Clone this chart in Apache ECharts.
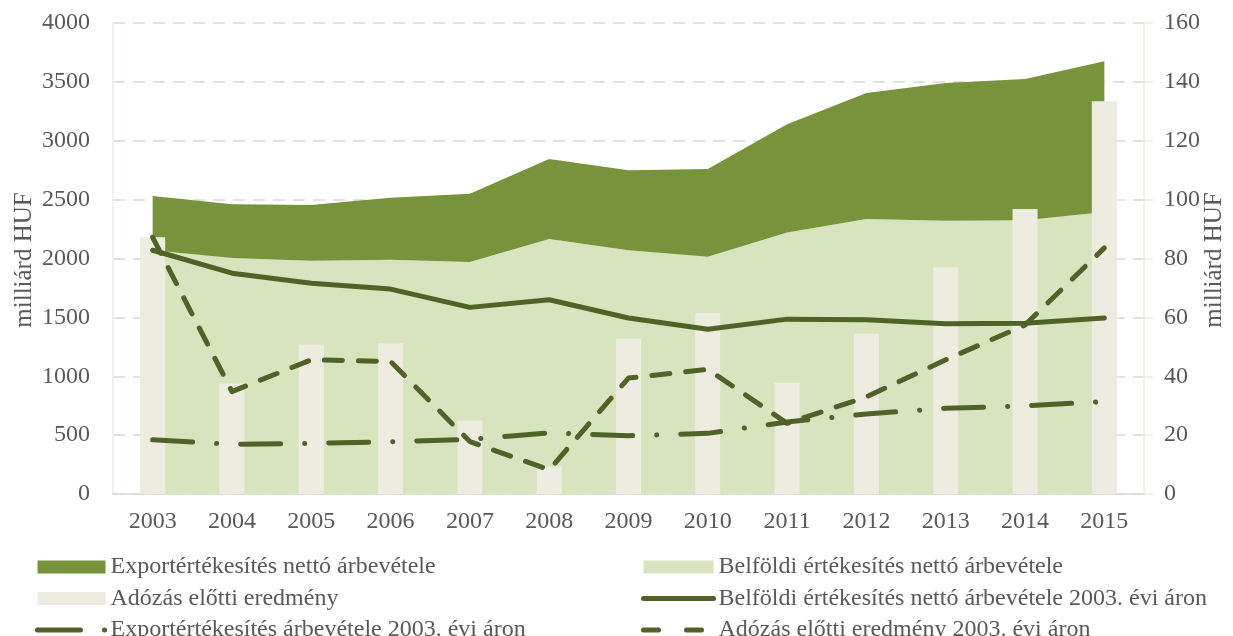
<!DOCTYPE html>
<html>
<head>
<meta charset="utf-8">
<script src="https://cdn.jsdelivr.net/npm/echarts@6/dist/echarts.min.js"></script>
<style>
  html, body { margin: 0; padding: 0; background: #ffffff; }
  #chart { width: 1233px; height: 636px; }
</style>
</head>
<body>
<div id="chart"></div>
<script>
// Years on the category axis
const years = ['2003','2004','2005','2006','2007','2008','2009','2010','2011','2012','2013','2014','2015'];

// Net sales revenue, billion HUF (stacked areas)
const domesticSales = [2070, 2005, 1980, 1990, 1970, 2165, 2070, 2015, 2220, 2335, 2320, 2325, 2395];
const exportSales   = [460, 455, 475, 525, 580, 680, 680, 745, 920, 1070, 1170, 1200, 1280];

// Profit before tax, billion HUF (columns)
const profitBeforeTax = [2180, 940, 1270, 1280, 625, 235, 1320, 1535, 945, 1360, 1925, 2420, 3335];

// Values at 2003 prices (lines)
const domesticReal = [2070, 1875, 1790, 1740, 1585, 1650, 1495, 1400, 1485, 1480, 1445, 1450, 1495];
const profitReal   = [2180, 870, 1140, 1125, 445, 205, 985, 1060, 600, 825, 1140, 1435, 2090];
const exportReal   = [460, 422, 430, 444, 464, 520, 495, 515, 612, 680, 728, 748, 785];

// Axis tick settings
const leftMax = 4000, leftStep = 500;
const rightMax = 160, rightStep = 20;
const unitLabel = 'milliárd HUF';

const NAMES = {
  exp: 'Exportértékesítés nettó árbevétele',
  dom: 'Belföldi értékesítés nettó árbevétele',
  pbt: 'Adózás előtti eredmény',
  domReal: 'Belföldi értékesítés nettó árbevétele 2003. évi áron',
  expReal: 'Exportértékesítés árbevétele 2003. évi áron',
  pbtReal: 'Adózás előtti eredmény 2003. évi áron'
};

const FONT = 'Liberation Serif';
const TEXT = '#595959';
const DARK = '#4F6228';
const LIGHT_AREA = '#D7E4BD';
const DARK_AREA = '#77933C';
const BAR = '#EEECE1';

const chart = echarts.init(document.getElementById('chart'), null, { renderer: 'canvas' });

const legendText = { fontFamily: FONT, fontSize: 24, color: TEXT, lineHeight: 22 };
const hideSymbol = { opacity: 0 };
const legendCommon = {
  orient: 'vertical', top: 555, height: 100, padding: 0,
  itemHeight: 13, itemGap: 7.5,
  textStyle: legendText,
  lineStyle: { width: 5, cap: 'round' },
  selectedMode: false
};

// Rotated unit captions beside each value axis
function unitCaption(x) {
  return {
    type: 'text', x: x, y: 260, rotation: Math.PI / 2, silent: true,
    style: { text: unitLabel, font: '25px "Liberation Serif"', fill: TEXT, align: 'center', verticalAlign: 'middle' }
  };
}

chart.setOption({
  animation: false,
  backgroundColor: '#ffffff',
  textStyle: { fontFamily: FONT },
  grid: { left: 113, right: 89, top: 23, bottom: 142, containLabel: false, outerBoundsMode: 'none' },
  graphic: [unitCaption(24), unitCaption(1214)],
  legend: [
    Object.assign({}, legendCommon, {
      left: 35, itemWidth: 68,
      data: [
        { name: NAMES.exp, icon: 'rect' },
        { name: NAMES.pbt, icon: 'rect' },
        { name: NAMES.expReal, itemStyle: hideSymbol,
          lineStyle: { width: 5, cap: 'round', type: [43, 24, 0.1, 30] } }
      ]
    }),
    Object.assign({}, legendCommon, {
      left: 641, itemWidth: 70,
      data: [
        { name: NAMES.dom, icon: 'rect' },
        { name: NAMES.domReal, itemStyle: hideSymbol },
        { name: NAMES.pbtReal, itemStyle: hideSymbol,
          lineStyle: { width: 5, cap: 'round', type: [15, 28] } }
      ]
    })
  ],
  xAxis: {
    type: 'category',
    data: years,
    boundaryGap: true,
    axisLine: { show: true, lineStyle: { color: '#D9D9D9', width: 1.5 } },
    axisTick: { show: false },
    axisLabel: { fontFamily: FONT, fontSize: 24, color: TEXT, margin: 16 }
  },
  yAxis: [
    {
      type: 'value', min: 0, max: leftMax, interval: leftStep,
      axisLine: { show: true, lineStyle: { color: BAR, width: 1.5 } },
      axisTick: { show: false },
      axisLabel: { fontFamily: FONT, fontSize: 24, color: TEXT, margin: 23, formatter: v => String(v) },
      splitLine: { show: true, lineStyle: { color: '#D9D9D9', width: 1.5, type: [12, 8] } }
    },
    {
      type: 'value', min: 0, max: rightMax, interval: rightStep, position: 'right',
      axisLine: { show: true, lineStyle: { color: BAR, width: 1.5 } },
      axisTick: { show: true, inside: false, length: 9, lineStyle: { color: BAR, width: 1.5 } },
      axisLabel: { fontFamily: FONT, fontSize: 24, color: TEXT, margin: 20, formatter: v => String(v) },
      splitLine: { show: false }
    }
  ],
  series: [
    {
      name: NAMES.dom, type: 'line', stack: 'sales', data: domesticSales,
      color: LIGHT_AREA, itemStyle: { color: LIGHT_AREA },
      showSymbol: false, symbol: 'none',
      lineStyle: { width: 0, color: LIGHT_AREA },
      areaStyle: { color: LIGHT_AREA, opacity: 1 }, z: 1
    },
    {
      name: NAMES.exp, type: 'line', stack: 'sales', data: exportSales,
      color: DARK_AREA, itemStyle: { color: DARK_AREA },
      showSymbol: false, symbol: 'none',
      lineStyle: { width: 0, color: DARK_AREA },
      areaStyle: { color: DARK_AREA, opacity: 1 }, z: 1
    },
    {
      name: NAMES.pbt, type: 'bar', data: profitBeforeTax, barWidth: 25,
      color: BAR, itemStyle: { color: BAR }, z: 2
    },
    {
      name: NAMES.domReal, type: 'line', data: domesticReal,
      color: DARK, showSymbol: false, symbol: 'none',
      lineStyle: { color: DARK, width: 5, cap: 'round', join: 'round' }, z: 3
    },
    {
      name: NAMES.pbtReal, type: 'line', data: profitReal,
      color: DARK, showSymbol: false, symbol: 'none',
      lineStyle: { color: DARK, width: 5, type: [18, 16], cap: 'round', join: 'round' }, z: 3
    },
    {
      name: NAMES.expReal, type: 'line', data: exportReal,
      color: DARK, showSymbol: false, symbol: 'none',
      lineStyle: { color: DARK, width: 5, type: [40, 24, 0.1, 24], cap: 'round', join: 'round' }, z: 3
    }
  ]
});
</script>
</body>
</html>
